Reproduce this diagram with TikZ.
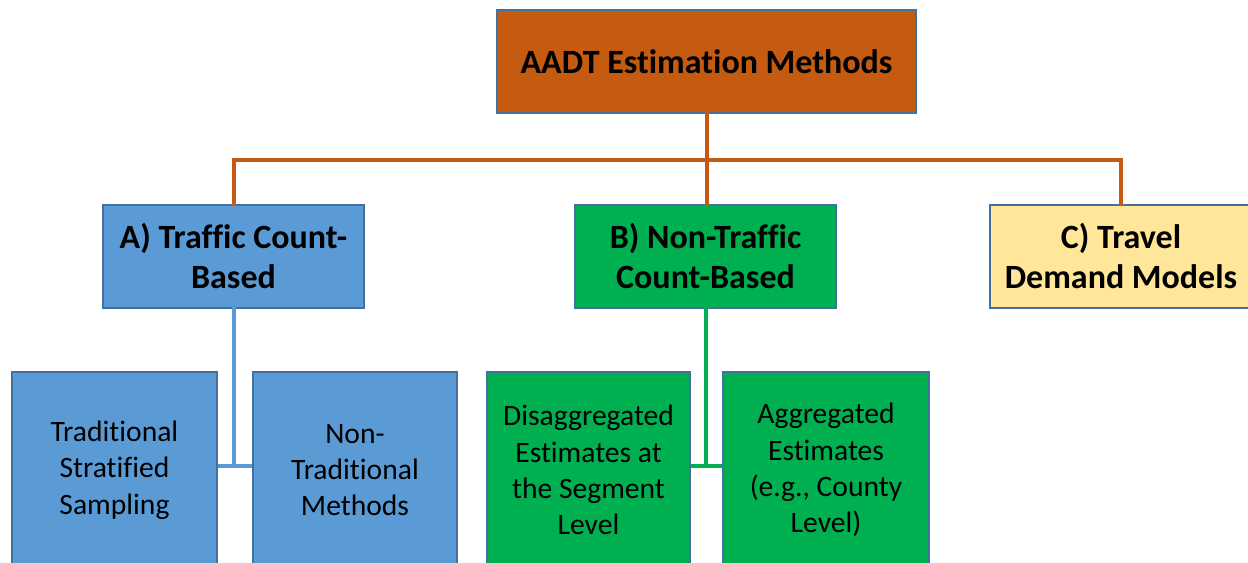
\documentclass[tikz,border=0pt]{standalone}
\usepackage{fontspec}
\setmainfont{Carlito}[Ligatures=NoCommon]
\definecolor{rootfill}{HTML}{C55A11}
\definecolor{bluefill}{HTML}{5B9BD5}
\definecolor{greenfill}{HTML}{00B050}
\definecolor{yellowfill}{HTML}{FFE699}
\definecolor{edgeline}{HTML}{41719C}
\begin{document}
\begin{tikzpicture}[x=0.75pt,y=-0.75pt,
  box/.style={draw=edgeline,line width=0.8pt,inner sep=0pt,align=center,text=black},
  headbox/.style={box,font=\bfseries\fontsize{25.5}{30}\selectfont},
  leafbox/.style={box,font=\fontsize{22.2}{27.2}\selectfont},
  link/.style={line width=3pt,line cap=rect,line join=miter}
]
\useasboundingbox (0,0) rectangle (1248,563);
\clip (0,0) rectangle (1248,563);

% root
\node[headbox,fill=rootfill,minimum width=419*0.75pt,minimum height=103*0.75pt] (root) at (706.5,61.5) {AADT Estimation Methods};

% second level
\node[headbox,fill=bluefill,minimum width=261*0.75pt,minimum height=103*0.75pt] (A) at (233.5,256.5) {A) Traffic Count-\\Based};
\node[headbox,fill=greenfill,minimum width=261*0.75pt,minimum height=103*0.75pt] (B) at (705.5,256.5) {B) Non-Traffic\\Count-Based};
\node[box,fill=yellowfill,minimum width=262*0.75pt,minimum height=103*0.75pt] (C) at (1121,256.5) {};
\node[font=\bfseries\fontsize{25.5}{30}\selectfont,align=center,inner sep=0pt] (Ctext) at (1121,256.5) {C) Travel\\Demand Models};

% leaves (running past the lower edge)
\node[leafbox,fill=bluefill,minimum width=205*0.75pt,minimum height=196*0.75pt] (A1) at (114.5,470) {Traditional\\Stratified\\Sampling};
\node[leafbox,fill=bluefill,minimum width=204*0.75pt,minimum height=196*0.75pt] (A2) at (355,470) {Non-\\Traditional\\Methods};
\node[leafbox,fill=greenfill,minimum width=203*0.75pt,minimum height=196*0.75pt] (B1) at (588.5,470) {Disaggregated\\Estimates at\\the Segment\\Level};
\node[leafbox,fill=greenfill,minimum width=206*0.75pt,minimum height=196*0.75pt] (B2) at (826,470) {Aggregated\\Estimates\\(e.g., County\\Level)};

% junction points
\coordinate (hub) at (707,160);
\coordinate (ja) at (234,466);
\coordinate (jb) at (706,466);

% connectors from the root
\draw[link,draw=rootfill] (root.south -| hub) -- (hub);
\draw[link,draw=rootfill] (hub) -| (A.north -| ja);
\draw[link,draw=rootfill] (hub) -| (C.north);
\draw[link,draw=rootfill] (hub) -- (hub |- B.north);

% connectors to the leaves
\draw[link,draw=bluefill] (A.south -| ja) -- (ja);
\draw[link,draw=bluefill,line cap=butt] (A1.east |- ja) -- (A2.west |- ja);
\draw[link,draw=greenfill] (B.south -| jb) -- (jb);
\draw[link,draw=greenfill,line cap=butt] (B1.east |- jb) -- (B2.west |- jb);
\end{tikzpicture}
\end{document}
